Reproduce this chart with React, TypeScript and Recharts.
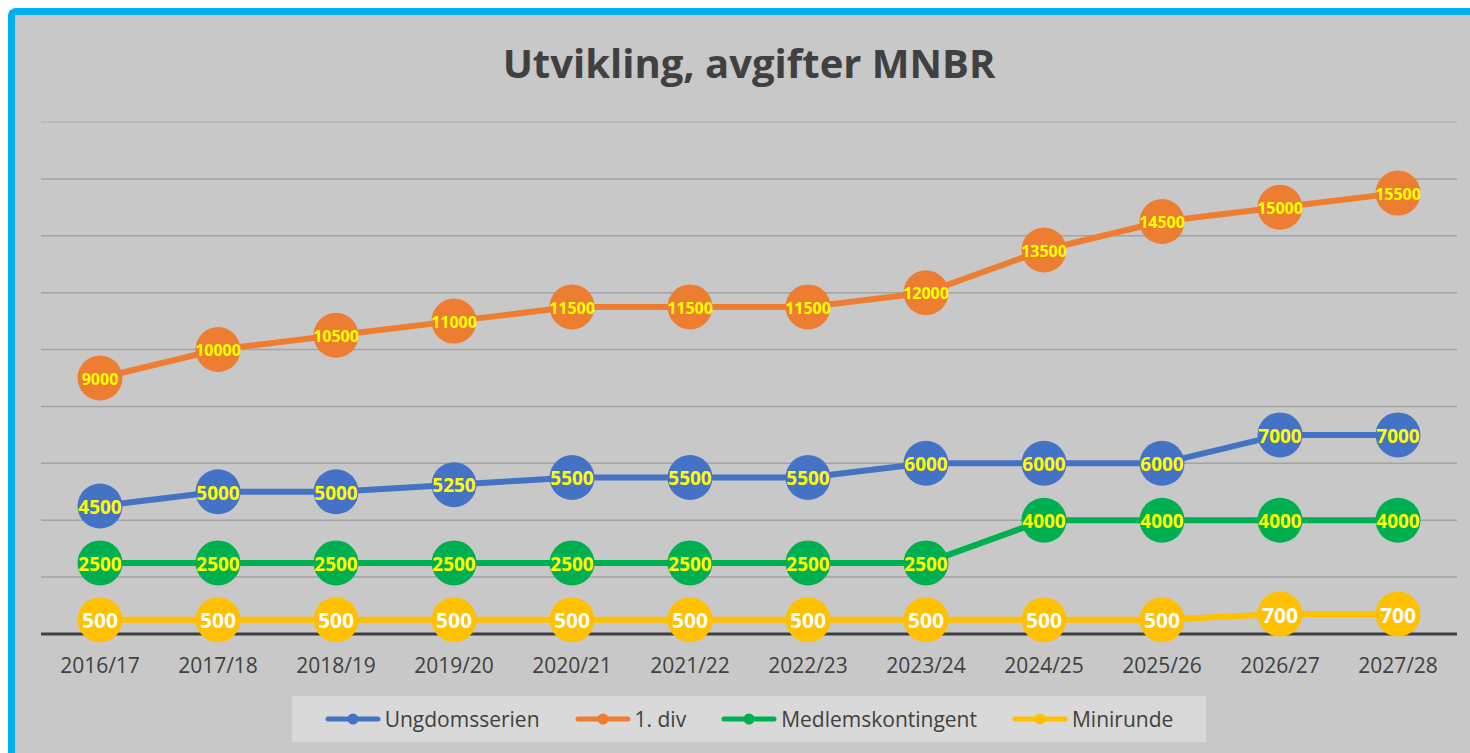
import React from 'react';
import { LineChart, Line, XAxis, YAxis, CartesianGrid, Legend, ReferenceLine } from 'recharts';

const categories = ['2016/17', '2017/18', '2018/19', '2019/20', '2020/21', '2021/22', '2022/23', '2023/24', '2024/25', '2025/26', '2026/27', '2027/28'];
const ungdomsserien = [4500, 5000, 5000, 5250, 5500, 5500, 5500, 6000, 6000, 6000, 7000, 7000];
const forsteDiv = [9000, 10000, 10500, 11000, 11500, 11500, 11500, 12000, 13500, 14500, 15000, 15500];
const medlemskontingent = [2500, 2500, 2500, 2500, 2500, 2500, 2500, 2500, 4000, 4000, 4000, 4000];
const minirunde = [500, 500, 500, 500, 500, 500, 500, 500, 500, 500, 700, 700];
const yTicks = [0, 2000, 4000, 6000, 8000, 10000, 12000, 14000, 16000, 18000];

const data = categories.map((cat, i) => ({
  cat,
  u: ungdomsserien[i],
  d: forsteDiv[i],
  m: medlemskontingent[i],
  mi: minirunde[i],
}));

const FONT = '"Open Sans", "Noto Sans", sans-serif';

const series = [
  { key: 'u', name: 'Ungdomsserien', color: '#4472c4', labelColor: '#ffff00', labelSize: 19 },
  { key: 'd', name: '1. div', color: '#ed7d31', labelColor: '#ffff00', labelSize: 16 },
  { key: 'm', name: 'Medlemskontingent', color: '#00b050', labelColor: '#ffff00', labelSize: 19 },
  { key: 'mi', name: 'Minirunde', color: '#ffc000', labelColor: '#ffffff', labelSize: 21 },
];

const makeDot = (s: any) => (props: any) => {
  const { cx, cy, payload, index } = props;
  if (cx == null || cy == null) return <g key={index} />;
  const v = payload[s.key];
  return (
    <g key={`${s.key}-${index}`}>
      <circle cx={cx} cy={cy} r={22.5} fill={s.color} />
      <text
        x={cx}
        y={cy + 0.357 * s.labelSize + 1}
        textAnchor="middle"
        fill={s.labelColor}
        fontSize={s.labelSize}
        fontWeight="bold"
        fontFamily={FONT}
      >
        {v}
      </text>
    </g>
  );
};

const renderLegend = () => (
  <div
    style={{
      width: 914,
      height: 46,
      background: '#d9d9d9',
      display: 'flex',
      alignItems: 'center',
      justifyContent: 'center',
      gap: 35,
      fontFamily: FONT,
      fontSize: 21,
      color: '#404040',
    }}
  >
    {series.map((s) => (
      <div key={s.key} style={{ display: 'flex', alignItems: 'center' }}>
        <svg width={56} height={14} style={{ display: 'block' }}>
          <line x1={3} x2={53} y1={7} y2={7} stroke={s.color} strokeWidth={5} strokeLinecap="round" />
          <circle cx={28} cy={7} r={5.5} fill={s.color} />
        </svg>
        <span style={{ marginLeft: 4, lineHeight: '21px' }}>{s.name}</span>
      </div>
    ))}
  </div>
);

export default function App() {
  return (
    <div
      style={{
        position: 'fixed',
        left: 8,
        top: 8,
        width: 1462,
        height: 745,
        boxSizing: 'border-box',
        borderTop: '7px solid #00b0f0',
        borderLeft: '7px solid #00b0f0',
        borderTopLeftRadius: 8,
        background: '#c8c8c8',
        overflow: 'hidden',
      }}
    >
      <div style={{ position: 'relative', width: 1455, height: 738 }}>
        <div
          style={{
            position: 'absolute',
            left: 26,
            width: 1416,
            top: 27.5,
            textAlign: 'center',
            fontFamily: FONT,
            fontWeight: 'bold',
            fontSize: 40,
            lineHeight: '40px',
            color: '#404040',
            zIndex: 2,
          }}
        >
          Utvikling, avgifter MNBR
        </div>
        <LineChart width={1455} height={738} data={data} margin={{ top: 107, right: 13, left: 26, bottom: 69 }}>
          <CartesianGrid vertical={false} stroke="#a3a3a3" strokeWidth={1.5} />
          <ReferenceLine y={18000} stroke="#bfbfbf" strokeWidth={1.5} />
          <YAxis hide domain={[0, 18000]} ticks={yTicks} />
          <XAxis
            dataKey="cat"
            interval={0}
            padding={{ left: 59, right: 59 }}
            tickLine={false}
            axisLine={{ stroke: '#404040', strokeWidth: 3 }}
            tick={{ fill: '#404040', fontSize: 21, fontFamily: FONT }}
            tickMargin={18}
            height={50}
          />
          <Legend
            layout="horizontal"
            verticalAlign="middle"
            align="center"
            content={renderLegend}
            wrapperStyle={{ left: 277, top: 681, width: 914, height: 46 }}
          />
          {series.map((s) => (
            <Line
              key={s.key}
              type="linear"
              dataKey={s.key}
              name={s.name}
              stroke={s.color}
              strokeWidth={6}
              dot={makeDot(s)}
              activeDot={false}
              isAnimationActive={false}
            />
          ))}
        </LineChart>
      </div>
    </div>
  );
}
